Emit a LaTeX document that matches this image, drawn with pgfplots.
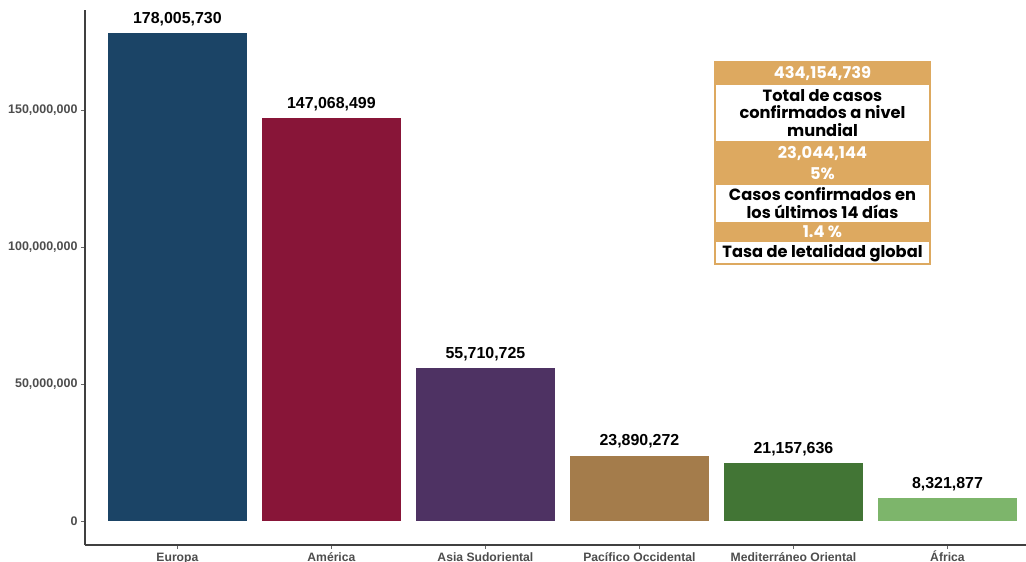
\documentclass[border=0pt]{standalone}
\usepackage{pgfplots}
\pgfplotsset{compat=1.18}
\usepackage{fontspec}
\setmainfont{Liberation Sans}
\newfontfamily\boxfont{Poppins}

\definecolor{eur}{HTML}{1B4466}
\definecolor{ame}{HTML}{881538}
\definecolor{asi}{HTML}{4E3263}
\definecolor{pac}{HTML}{A47C4B}
\definecolor{med}{HTML}{427535}
\definecolor{afr}{HTML}{7DB56B}
\definecolor{oro}{HTML}{DDA960}
\definecolor{tick}{HTML}{4D4D4D}

\begin{document}
\begin{tikzpicture}
\path[use as bounding box] (-85bp,-17bp) rectangle (941bp,545bp);
\begin{axis}[
	at={(0,0)}, anchor=south west,
	scale only axis, width=941bp, height=535bp,
	xmin=-0.6, xmax=5.51,
	ymin=-8.76e6, ymax=186.5e6,
	axis x line*=bottom, axis y line*=left,
	axis line style={-, black!75, line width=1.1bp},
	ybar, bar width=0.9, bar shift=0pt,
	xtick={0,1,2,3,4,5},
	xticklabels={Europa, América, Asia Sudoriental, Pacífico Occidental, Mediterráneo Oriental, África},
	ytick={0,50e6,100e6,150e6},
	yticklabels={0, {50,000,000}, {100,000,000}, {150,000,000}},
	tick align=outside, major tick length=4bp,
	tick style={black!60, line width=0.8bp},
	xticklabel style={font=\bfseries\fontsize{12.2}{12}\selectfont, text=tick,
		text height=8.8bp, text depth=2.5bp},
	yticklabel style={font=\bfseries\fontsize{12.5}{13}\selectfont, text=tick},
	point meta=explicit symbolic,
	nodes near coords,
	every node near coord/.append style={font=\bfseries\fontsize{16}{16}\selectfont,
		text=black, anchor=south, yshift=4bp},
	every axis plot/.append style={draw=none},
]
\addplot[fill=eur] coordinates {(0,178005730) [178,005,730]};
\addplot[fill=ame] coordinates {(1,147068499) [147,068,499]};
\addplot[fill=asi] coordinates {(2,55710725) [55,710,725]};
\addplot[fill=pac] coordinates {(3,23890272) [23,890,272]};
\addplot[fill=med] coordinates {(4,21157636) [21,157,636]};
\addplot[fill=afr] coordinates {(5,8321877) [8,321,877]};
\end{axis}

% resumen
\fill[oro] (630bp,460bp) rectangle (845bp,483bp);
\fill[oro] (630bp,360bp) rectangle (845bp,404bp);
\fill[oro] (630bp,303bp) rectangle (845bp,323bp);
\draw[oro, line width=1.5bp] (630bp,281bp) rectangle (845bp,483bp);
\begin{scope}[every node/.style={align=center, inner sep=0pt,
	font=\boxfont\bfseries\fontsize{16.3}{18}\selectfont}]
\node[text=white] at (737.5bp,471.5bp) {434,154,739};
\node[text=black] at (737.5bp,432bp) {Total de casos\\confirmados a nivel\\mundial};
\node[text=white, font=\boxfont\bfseries\fontsize{16.3}{21}\selectfont] at (737.5bp,382bp) {23,044,144\\5\%};
\node[text=black] at (737.5bp,341.5bp) {Casos confirmados en\\los últimos 14 días};
\node[text=white] at (737.5bp,313bp) {1.4 \%};
\node[text=black] at (737.5bp,292bp) {Tasa de letalidad global};
\end{scope}
\end{tikzpicture}
\end{document}
